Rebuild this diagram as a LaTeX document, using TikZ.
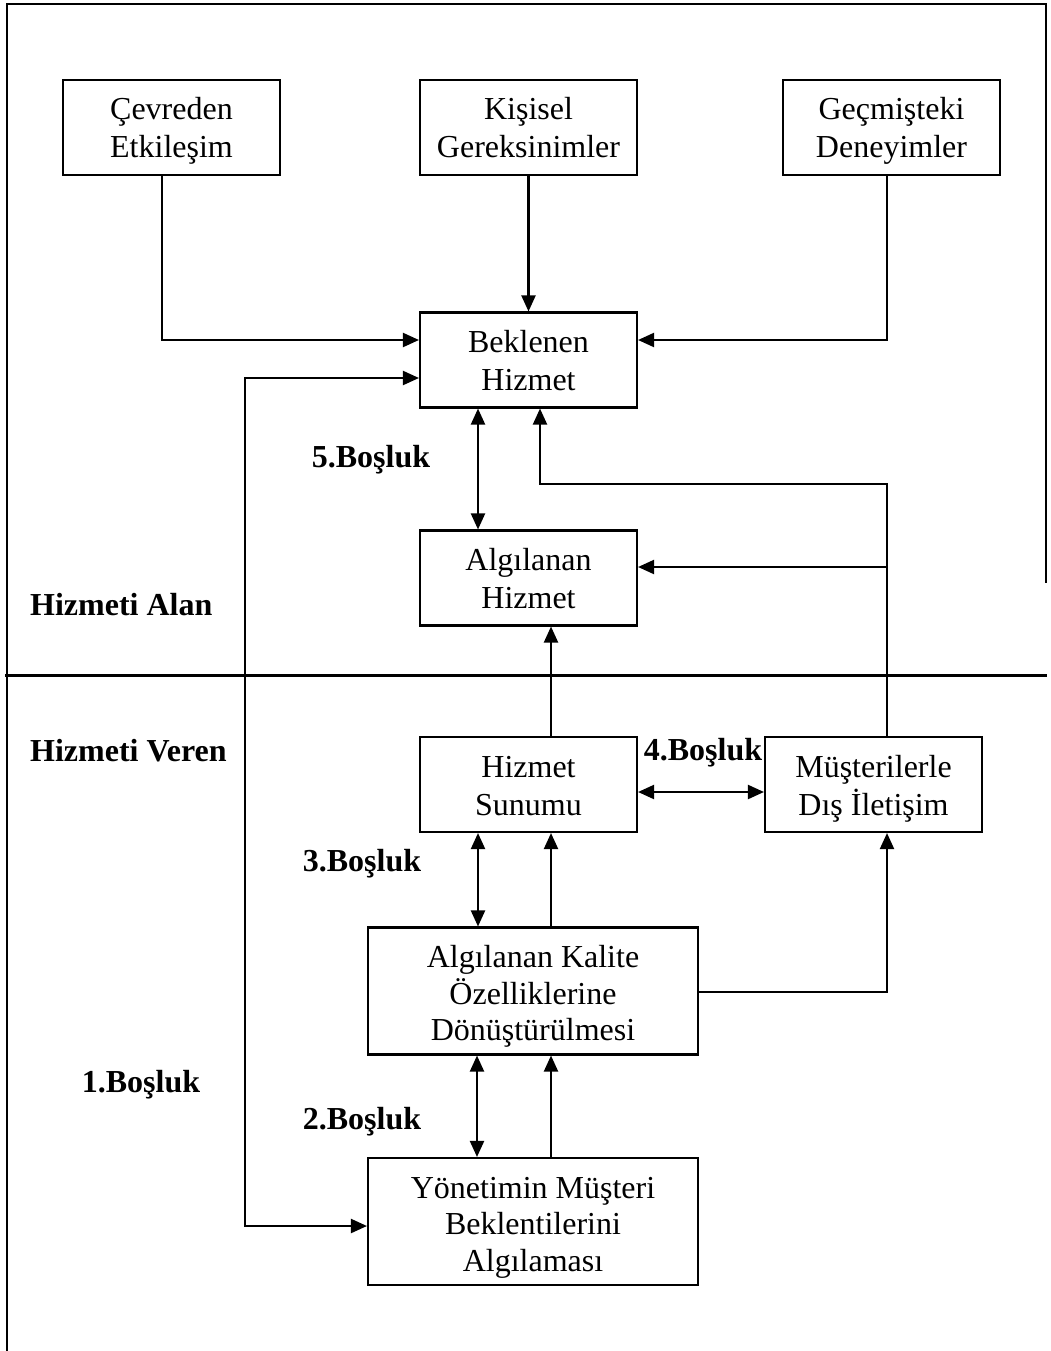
\documentclass[tikz,border=0pt]{standalone}
\usepackage{fontspec}
\setmainfont{Liberation Serif}
\usetikzlibrary{arrows.meta}
\begin{document}
\begin{tikzpicture}[x=1pt,y=-1pt,
  box/.style={draw,line width=2.1pt,align=center,inner sep=0pt,
    font=\fontsize{32}{38}\selectfont,text height=61pt,text depth=0pt,
    minimum width=217pt,minimum height=95pt},
  widebox/.style={box,font=\fontsize{32}{36.5}\selectfont,text height=99pt,
    minimum width=330pt,minimum height=127pt},
  gap/.style={font=\fontsize{32}{37}\selectfont\bfseries,inner sep=0pt},
  conn/.style={line width=2.1pt,-{Triangle[length=16pt,width=14pt]}},
  bothway/.style={line width=2.1pt,{Triangle[length=16pt,width=14pt]}-{Triangle[length=16pt,width=14pt]}}
]
\useasboundingbox (0,0) rectangle (1050,1351);

% outer frame and the divider between the two sides
\draw[line width=2.4pt] (7,1351) -- (7,4) -- (1046,4) -- (1046,583);
\draw[line width=3pt] (5,675) -- (1047,675);

% boxes
\node[box] (cev) at (171.5,127.5) {Çevreden\\Etkileşim};
\node[box] (kis) at (528.5,127.5) {Kişisel\\Gereksinimler};
\node[box] (gec) at (891.5,127.5) {Geçmişteki\\Deneyimler};
\node[box] (bek) at (528.5,360) {Beklenen\\Hizmet};
\node[box] (alg) at (528.5,578) {Algılanan\\Hizmet};
\node[box] (sun) at (528.5,784.5) {Hizmet\\Sunumu};
\node[box] (mus) at (873.5,784.5) {Müşterilerle\\Dış İletişim};
\node[widebox] (kal) at (533,991) {Algılanan Kalite\\Özelliklerine\\Dönüştürülmesi};
\node[widebox] (yon) at (533,1221.5) {Yönetimin Müşteri\\Beklentilerini\\Algılaması};

% side and gap labels
\node[gap,anchor=west] (alan) at (30,605) {Hizmeti Alan};
\node[gap,anchor=west] (veren) at (30,751) {Hizmeti Veren};
\node[gap] (g5) at (371,460) {5.Boşluk};
\node[gap] (g4) at (703,753) {4.Boşluk};
\node[gap] (g3) at (362,864) {3.Boşluk};
\node[gap] (g1) at (141,1085) {1.Boşluk};
\node[gap] (g2) at (362,1122) {2.Boşluk};

% inputs to the expected service
\draw[conn] (cev.south -| 162,0) |- (bek.west |- 0,340);
\draw[conn] (kis.south) -- (bek.north);
\draw[conn] (gec.south -| 887,0) |- (bek.east |- 0,340);

% gap 1: expected service <-> management perception
\draw[bothway] (bek.west |- 0,378) -- (245,378) -- (245,1226) -- (yon.west |- 0,1226);

% gap 5
\draw[bothway] (bek.south -| 478,0) -- (alg.north -| 478,0);

% external communication feeds expected and perceived service
\coordinate (jn) at (887,567);
\draw[conn] (mus.north -| 887,0) |- (540,484) -- (bek.south -| 540,0);
\draw[conn] (jn) -- (alg.east |- jn);

% service delivery to perceived service
\draw[conn] (sun.north -| 551,0) -- (alg.south -| 551,0);

% gap 4
\draw[bothway] (sun.east |- 0,792) -- (mus.west |- 0,792);

% gap 3
\draw[bothway] (sun.south -| 478,0) -- (kal.north -| 478,0);
\draw[conn] (kal.north -| 551,0) -- (sun.south -| 551,0);
\draw[conn] (kal.east |- 0,992) -| (mus.south -| 887,0);

% gap 2
\draw[bothway] (kal.south -| 477,0) -- (yon.north -| 477,0);
\draw[conn] (yon.north -| 551,0) -- (kal.south -| 551,0);
\end{tikzpicture}
\end{document}
